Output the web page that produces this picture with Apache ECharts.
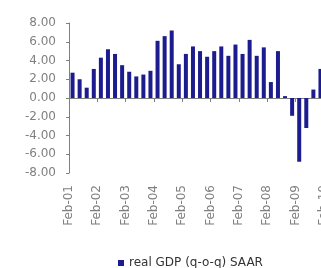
<!DOCTYPE html>
<html lang="en">

<head>
    <meta charset="UTF-8">
    <title>real GDP (q-o-q) SAAR</title>
    <script src="https://cdn.jsdelivr.net/npm/echarts@6/dist/echarts.min.js"></script>
    <style>
        html, body { margin: 0; padding: 0; background: #fff; }
    </style>
</head>

<body>
    <div id="mychart" style="width: 321px; height: 268px"></div>
</body>

<script>
    // quarterly values, Feb-01 onwards
    var gdpValues = [
        2.7, 2.0, 1.1, 3.1,
        4.3, 5.2, 4.7, 3.5,
        2.8, 2.3, 2.5, 2.9,
        6.1, 6.6, 7.2, 3.6,
        4.7, 5.5, 5.0, 4.4,
        5.0, 5.5, 4.5, 5.7,
        4.7, 6.2, 4.5, 5.4,
        1.7, 5.0, 0.2, -1.9,
        -6.8, -3.2, 0.9, 3.1
    ];
    // one label every 4 quarters
    var yearLabels = ['Feb-01', 'Feb-02', 'Feb-03', 'Feb-04', 'Feb-05',
        'Feb-06', 'Feb-07', 'Feb-08', 'Feb-09', 'Feb-10'];
    var seriesName = 'real GDP (q-o-q) SAAR';

    var mychart = echarts.init(document.getElementById('mychart'));

    // bars sit in the middle of each quarter slot
    var barData = gdpValues.map(function (v, i) { return [i + 0.5, v]; });

    var grey = '#808080';
    var font = 'DejaVu Sans';

    mychart.setOption({
        animation: false,
        grid: { left: 69, top: 23, width: 255, height: 150, outerBoundsMode: 'none' },
        legend: {
            bottom: -6,
            left: 113,
            itemWidth: 6,
            itemHeight: 6,
            icon: 'rect',
            textStyle: { fontFamily: font, fontSize: 12, color: '#333' },
            data: [seriesName]
        },
        xAxis: [{
            // zero line with ticks
            type: 'value',
            min: 0,
            max: 36,
            interval: 4,
            axisLine: { onZero: true, lineStyle: { color: grey } },
            axisTick: { length: 4, lineStyle: { color: grey } },
            axisLabel: { show: false },
            splitLine: { show: false }
        }, {
            // year labels along the bottom
            type: 'value',
            position: 'bottom',
            offset: 0,
            min: 0,
            max: 36,
            interval: 4,
            axisLine: { show: false, onZero: false },
            axisTick: { show: false },
            splitLine: { show: false },
            axisLabel: {
                rotate: 90,
                margin: 12,
                fontFamily: font,
                fontSize: 12,
                color: grey,
                formatter: function (v) { return yearLabels[v / 4]; }
            }
        }],
        yAxis: {
            type: 'value',
            min: -8,
            max: 8,
            interval: 2,
            axisLine: { show: true, lineStyle: { color: grey } },
            axisTick: { show: true, length: 3, lineStyle: { color: grey } },
            splitLine: { show: false },
            axisLabel: {
                margin: 13,
                fontFamily: font,
                fontSize: 12,
                color: grey,
                formatter: function (v) { return v.toFixed(2); }
            }
        },
        series: [{
            name: seriesName,
            type: 'bar',
            xAxisIndex: 0,
            barWidth: 4,
            itemStyle: { color: '#1c1c8e' },
            data: barData
        }]
    });
</script>

</html>
